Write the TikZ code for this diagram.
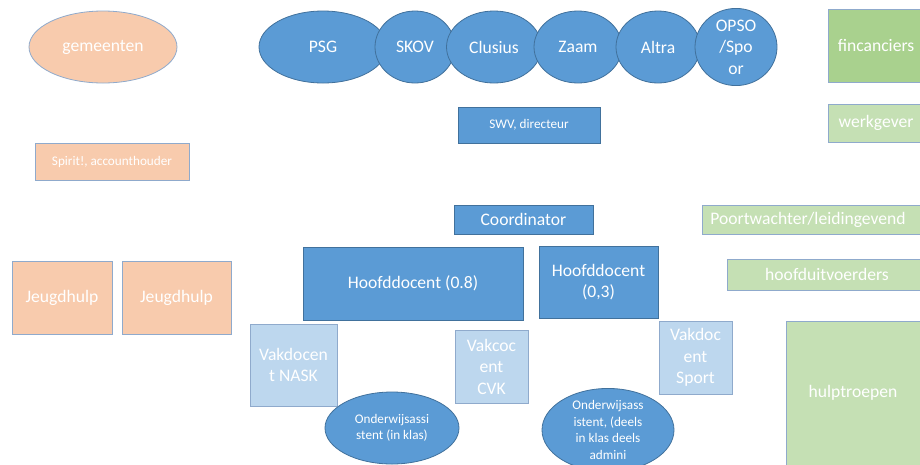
\documentclass[tikz,border=0pt]{standalone}
\usepackage{fontspec}
\setmainfont{Carlito}
\usetikzlibrary{shapes.geometric}
\definecolor{blueA}{HTML}{5B9BD5}
\definecolor{blueB}{HTML}{BDD7EE}
\definecolor{peach}{HTML}{F8CBAD}
\definecolor{greenA}{HTML}{A9D18E}
\definecolor{greenB}{HTML}{C5E0B4}
\definecolor{edgeD}{HTML}{41719C}
\definecolor{edgeL}{HTML}{8FAACC}
\tikzset{
  shp/.style={inner sep=0pt, text=white, align=center, line width=0.8pt,
    font=\fontsize{17.6}{21.5}\selectfont},
  small/.style={font=\fontsize{13.2}{16.5}\selectfont},
  bluebox/.style={shp, rectangle, fill=blueA, draw=edgeD},
  blueell/.style={shp, ellipse, fill=blueA, draw=edgeD},
  lightbox/.style={shp, rectangle, fill=blueB, draw=edgeL},
  peachbox/.style={shp, rectangle, fill=peach, draw=edgeL},
  peachell/.style={shp, ellipse, fill=peach, draw=edgeL},
  greenbox/.style={shp, rectangle, fill=greenA, draw=edgeL},
  lgreenbox/.style={shp, rectangle, fill=greenB, draw=edgeL},
  sz/.style 2 args={minimum width=#1pt, minimum height=#2pt},
}
\begin{document}
\begin{tikzpicture}[x=1pt,y=-1pt]
\useasboundingbox (0,0) rectangle (920,464);
\clip (0,0) rectangle (920,464);
\fill[white] (0,0) rectangle (920,464);
% left column
\node[peachell, sz={148}{72}] (gem) at (103,47) {gemeenten};
\node[peachbox, small, sz={154}{37}] (spirit) at (112,161.5) {Spirit!, accounthouder};
\node[peachbox, sz={100}{73}] (jh1) at (62,297.5) {Jeugdhulp};
\node[peachbox, sz={109}{73}] (jh2) at (176.5,297.5) {Jeugdhulp};
% top ellipses
\node[blueell, sz={128}{72}] (psg) at (323,47) {PSG};
\node[blueell, sz={80}{72}] (skov) at (415,47) {SKOV};
\node[blueell, sz={95}{72}] (clus) at (494,47) {Clusius};
\node[blueell, sz={88}{72}] (zaam) at (578,47) {Zaam};
\node[blueell, sz={84}{72}] (altra) at (658,47) {Altra};
\node[blueell, sz={82}{74}] (opso) at (736,47) {OPSO\\/Spo\\or};
% center
\node[bluebox, small, sz={142}{36}] (swv) at (529,125) {SWV, directeur};
\node[bluebox, sz={139}{29}] (coord) at (523.5,219.5) {Coordinator};
\node[bluebox, sz={220}{73}] (hd08) at (413,283.5) {Hoofddocent (0.8)};
\node[bluebox, sz={119}{72}] (hd03) at (598.5,282) {Hoofddocent\\(0,3)};
\node[lightbox, sz={87}{82}] (nask) at (293.5,365) {Vakdocen\\t NASK};
\node[lightbox, sz={73}{73}] (cvk) at (491.5,366.5) {Vakcoc\\ent\\CVK};
\node[lightbox, sz={73}{73}] (sport) at (695.5,357.5) {Vakdoc\\ent\\Sport};
\node[blueell, small, sz={134}{72}] (oa1) at (392,428) {Onderwijsassi\\stent (in klas)};
\node[blueell, small, sz={132}{76}] (oa2) at (608,430) {Onderwijsass\\istent, (deels\\in klas deels\\admini};
% right column
\node[greenbox, sz={96}{73}] (finc) at (876,45.5) {fincanciers};
\node[lgreenbox, sz={240}{29}, anchor=west] (poort) at (702,219.5) {};
\node[lgreenbox, sz={96}{38}] (werk) at (876,123) {werkgever};
\node[shp, anchor=west] (poorttxt) at (710,219.5) {Poortwachter/leidingevend};
\node[lgreenbox, sz={200}{31}] (hoofd) at (827,274.5) {hoofduitvoerders};
\node[lgreenbox, sz={134}{144}] (hulp) at (853,393) {hulptroepen};
\end{tikzpicture}
\end{document}
